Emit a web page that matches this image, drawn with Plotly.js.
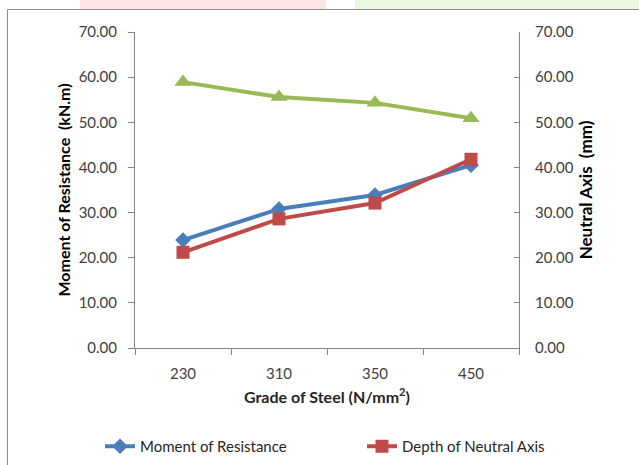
<!DOCTYPE html>
<html>
<head>
<meta charset="utf-8">
<script src="https://cdn.plot.ly/plotly-3.0.1.min.js"></script>
<style>html,body{margin:0;padding:0;background:#fff;}#chart{width:639px;height:465px;}</style>
</head>
<body>
<div id="chart"></div>
<script>
var categories = ["230", "310", "350", "450"];
var momentOfResistance = [23.9, 30.8, 33.9, 40.5];
var depthOfNeutralAxis = [21.2, 28.6, 32.1, 41.8];
var neutralAxis = [58.9, 55.6, 54.3, 50.9];
var yTickVals = [0, 10, 20, 30, 40, 50, 60, 70];

var L = 135, R = 519, T = 32, B = 348, W = 639, H = 465;
function px(x){ return (x - L) / (R - L); }
function py(y){ return (B - y) / (B - T); }

var traces = [
  {x: categories, y: momentOfResistance, name: "Moment of Resistance", type: "scatter", mode: "lines+markers", legend: "legend",
   line: {color: "#4a7ebb", width: 4}, marker: {symbol: "diamond", size: 12, color: "#4a7ebb"}},
  {x: categories, y: depthOfNeutralAxis, name: "Depth of Neutral Axis", type: "scatter", mode: "lines+markers", legend: "legend2",
   line: {color: "#be4b48", width: 4}, marker: {symbol: "square", size: 13, color: "#be4b48"}},
  {x: categories, y: neutralAxis, name: "Neutral Axis", type: "scatter", mode: "lines+markers", yaxis: "y2", showlegend: false,
   line: {color: "#98b954", width: 4}, marker: {symbol: "triangle-up", size: 15, color: "#98b954"}}
];

var tickFont = {family: "Lato, sans-serif", size: 15, color: "#404040"};
var legFont = {family: "Lato, sans-serif", size: 15, color: "#262626"};
var layout = {
  width: W, height: H,
  margin: {l: L, r: W - R, t: T, b: H - B, autoexpand: false},
  paper_bgcolor: "rgba(0,0,0,0)", plot_bgcolor: "rgba(0,0,0,0)",
  font: {family: "Lato, sans-serif", color: "#000"},
  showlegend: true,
  xaxis: {type: "category", range: [-0.5, 3.5], automargin: false, showline: true, linecolor: "#868686", linewidth: 1, ticks: "outside", ticklen: 6, tickcolor: "#868686",
          tickson: "boundaries", ticklabelstandoff: 12, showgrid: false, zeroline: false, tickfont: tickFont,
          title: {text: "<b>Grade of Steel (N/mm<sup>2</sup>)</b>", font: {size: 16, color: "#262626"}, standoff: 10}},
  yaxis: {range: [0, 70], automargin: false, tickvals: yTickVals, tickformat: ".2f", showline: true, linecolor: "#868686", ticks: "outside", ticklen: 6,
          tickcolor: "#868686", ticklabelstandoff: 8, showgrid: false, zeroline: false, tickfont: tickFont,
          title: {text: "<b>Moment of Resistance  (kN.m)</b>", font: {size: 16, color: "#000"}, standoff: 4}},
  yaxis2: {range: [0, 70], automargin: false, tickvals: yTickVals, tickformat: ".2f", overlaying: "y", side: "right", showline: true, linecolor: "#868686",
           ticks: "inside", ticklen: 5, tickcolor: "#868686", ticklabelstandoff: 12, showgrid: false, zeroline: false, tickfont: tickFont,
           title: {text: "<b>Neutral Axis  (mm)</b>", font: {size: 17, color: "#000"}, standoff: 7}},
  legend: {orientation: "h", x: px(100), y: py(430), xanchor: "left", yanchor: "top", font: legFont, bgcolor: "rgba(0,0,0,0)"},
  legend2: {orientation: "h", x: px(362), y: py(430), xanchor: "left", yanchor: "top", font: legFont, bgcolor: "rgba(0,0,0,0)"},
  shapes: [
    {type: "rect", xref: "paper", yref: "paper", x0: px(80), x1: px(326), y0: py(0), y1: py(9), fillcolor: "#fde4e4", line: {width: 0}, layer: "below"},
    {type: "rect", xref: "paper", yref: "paper", x0: px(355), x1: px(640), y0: py(0), y1: py(9), fillcolor: "#eaf8e2", line: {width: 0}, layer: "below"},
    {type: "rect", xref: "paper", yref: "paper", x0: px(7.5), x1: px(660), y0: py(9.5), y1: py(480), fillcolor: "rgba(0,0,0,0)", line: {width: 1, color: "#8c8c8c"}, layer: "below"}
  ]
};
Plotly.newPlot("chart", traces, layout, {displayModeBar: false, staticPlot: true});
</script>
</body>
</html>
